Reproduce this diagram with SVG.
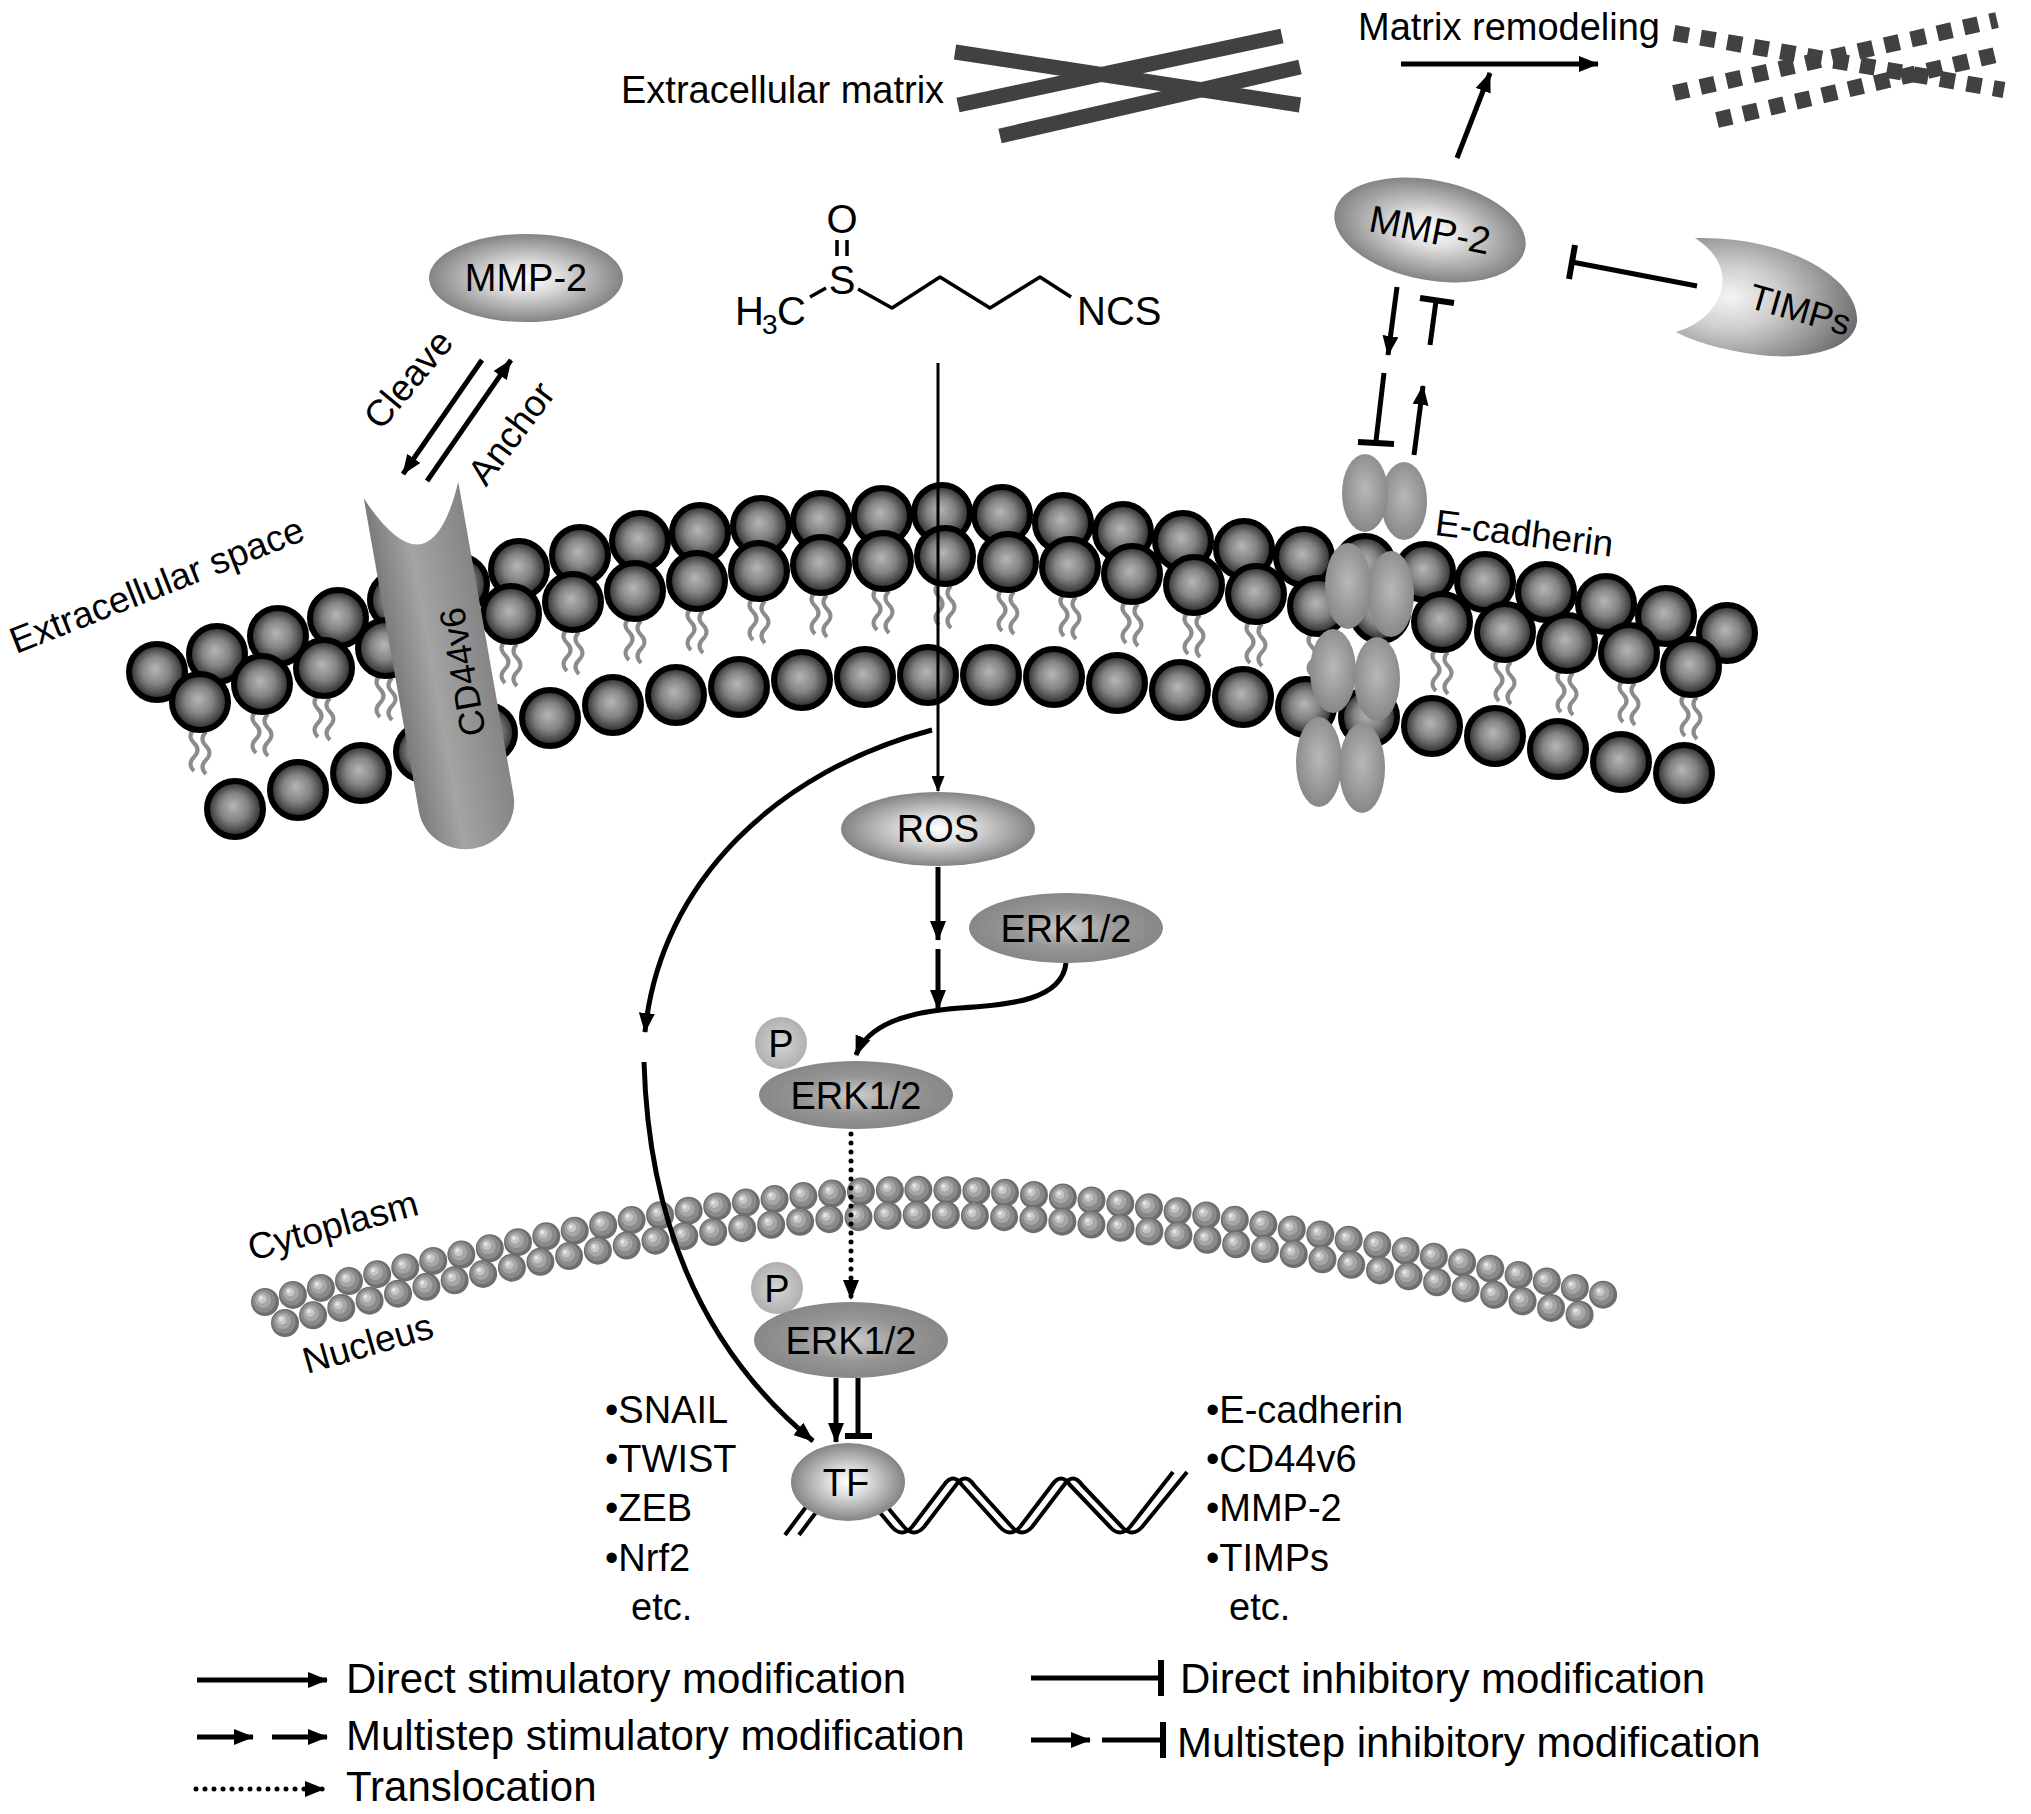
<svg xmlns="http://www.w3.org/2000/svg" xmlns:xlink="http://www.w3.org/1999/xlink" width="2031" height="1814" viewBox="0 0 2031 1814">
<style>
text{font-family:"Liberation Sans",Arial,sans-serif;fill:#000}
.lbl{font-size:38px}
.leg{font-size:42px}
.node{font-size:38px;text-anchor:middle}
.ln{fill:none;stroke:#000;stroke-width:5}
.thin{fill:none;stroke:#000;stroke-width:3}
.bar{fill:none;stroke:#000;stroke-width:6}
.ecm{stroke:#414141;stroke-width:15;fill:none}
.ecmd{stroke:#414141;stroke-width:16;stroke-dasharray:15 12;fill:none}
.bond{stroke:#000;stroke-width:3.5;fill:none;stroke-linejoin:round}
.dna{fill:none;stroke:#000;stroke-width:4;stroke-linejoin:round}
</style>
<defs>
<radialGradient id="pg" cx="0.5" cy="0.5" r="0.5" fx="0.46" fy="0.44">
<stop offset="0" stop-color="#b6b6b6"/><stop offset="0.5" stop-color="#838383"/><stop offset="0.85" stop-color="#424242"/><stop offset="1" stop-color="#1e1e1e"/>
</radialGradient>
<radialGradient id="gL" cx="0.5" cy="0.5" r="0.55">
<stop offset="0" stop-color="#ffffff"/><stop offset="0.3" stop-color="#e0e0e0"/><stop offset="1" stop-color="#767676"/>
</radialGradient>
<radialGradient id="gE" cx="0.5" cy="0.5" r="0.55">
<stop offset="0" stop-color="#cdcdcd"/><stop offset="0.5" stop-color="#969696"/><stop offset="1" stop-color="#848484"/>
</radialGradient>
<radialGradient id="gP" cx="0.5" cy="0.5" r="0.5">
<stop offset="0" stop-color="#d6d6d6"/><stop offset="1" stop-color="#b0b0b0"/>
</radialGradient>
<radialGradient id="gC" cx="0.5" cy="0.45" r="0.55">
<stop offset="0" stop-color="#b8b8b8"/><stop offset="1" stop-color="#878787"/>
</radialGradient>
<radialGradient id="gT" cx="0.3" cy="0.5" r="0.75">
<stop offset="0" stop-color="#f4f4f4"/><stop offset="0.35" stop-color="#cfcfcf"/><stop offset="1" stop-color="#6a6a6a"/>
</radialGradient>
<linearGradient id="gcd" x1="0" y1="0" x2="1" y2="0">
<stop offset="0" stop-color="#7c7c7c"/><stop offset="0.4" stop-color="#a4a4a4"/><stop offset="1" stop-color="#858585"/>
</linearGradient>
<marker id="ah" markerUnits="userSpaceOnUse" markerWidth="20" markerHeight="16" viewBox="0 0 20 16" refX="19" refY="8" orient="auto">
<path d="M0,0 L20,8 L0,16 Z" fill="#000"/>
</marker>
<marker id="ahs" markerUnits="userSpaceOnUse" markerWidth="16" markerHeight="13" viewBox="0 0 16 13" refX="15" refY="6.5" orient="auto">
<path d="M0,0 L16,6.5 L0,13 Z" fill="#000"/>
</marker>
<circle id="ps" r="28" fill="url(#pg)" stroke="#000" stroke-width="6"/>
<g id="tp" fill="none" stroke="#8c8c8c" stroke-width="4">
<path d="M-6,0 q-7,7 0,14 t0,14 t0,14"/><path d="M6,3 q-7,7 0,14 t0,14 t0,14"/>
</g>
<path id="n1" d="M265,1302 C450,1255 700,1195 900,1190 C1100,1186 1400,1245 1621,1299" fill="none" stroke-linecap="round" stroke-dasharray="0 28.9"/>
<path id="n2" d="M285,1323 C470,1272 720,1218 915,1215 C1110,1212 1390,1268 1601,1320" fill="none" stroke-linecap="round" stroke-dasharray="0 29.2"/>
</defs>
<rect width="2031" height="1814" fill="#fff"/>

<g id="ecm">
<line class="ecm" x1="955" y1="52" x2="1300" y2="105"/>
<line class="ecm" x1="958" y1="105" x2="1282" y2="36"/>
<line class="ecm" x1="1000" y1="136" x2="1300" y2="67"/>
<text class="lbl" x="621" y="103">Extracellular matrix</text>
</g>
<g id="ecm-remodeled">
<line class="ecmd" x1="1674" y1="33" x2="2004" y2="90"/>
<line class="ecmd" x1="1674" y1="93" x2="1997" y2="20"/>
<line class="ecmd" x1="1717" y1="120" x2="2004" y2="53"/>
<text class="lbl" x="1358" y="40">Matrix remodeling</text>
</g>

<g id="sulforaphane">
<text x="735" y="325" font-size="40">H</text>
<text x="762" y="334" font-size="28">3</text>
<text x="777" y="325" font-size="40">C</text>
<text x="842" y="294" font-size="40" text-anchor="middle">S</text>
<text x="842" y="233" font-size="40" text-anchor="middle">O</text>
<text x="1077" y="325" font-size="40">NCS</text>
<path class="bond" d="M810,297 L826,288"/>
<path class="bond" d="M837,240 L837,256 M847,240 L847,256"/>
<path class="bond" d="M858,289 L892,308 L940,277 L990,308 L1040,277 L1071,297"/>
</g>

<g id="mmp2-left">
<ellipse cx="526" cy="278" rx="97" ry="44" fill="url(#gL)"/>
<text class="node" x="526" y="291">MMP-2</text>
</g>

<g id="membrane">
<use href="#tp" x="200" y="729"/><use href="#tp" x="262" y="711"/><use href="#tp" x="324" y="695"/><use href="#tp" x="386" y="675"/><use href="#tp" x="449" y="657"/><use href="#tp" x="511" y="641"/><use href="#tp" x="573" y="629"/><use href="#tp" x="635" y="618"/><use href="#tp" x="697" y="608"/><use href="#tp" x="759" y="598"/><use href="#tp" x="821" y="592"/><use href="#tp" x="883" y="588"/><use href="#tp" x="945" y="583"/><use href="#tp" x="1008" y="589"/><use href="#tp" x="1070" y="594"/><use href="#tp" x="1132" y="601"/><use href="#tp" x="1194" y="612"/><use href="#tp" x="1256" y="621"/><use href="#tp" x="1318" y="633"/><use href="#tp" x="1442" y="649"/><use href="#tp" x="1505" y="659"/><use href="#tp" x="1567" y="670"/><use href="#tp" x="1629" y="680"/><use href="#tp" x="1691" y="694"/>
<g id="rowA">
<use href="#ps" x="157" y="672"/><use href="#ps" x="217" y="654"/><use href="#ps" x="278" y="636"/><use href="#ps" x="338" y="618"/><use href="#ps" x="398" y="600"/><use href="#ps" x="459" y="584"/><use href="#ps" x="519" y="569"/><use href="#ps" x="580" y="555"/><use href="#ps" x="640" y="541"/><use href="#ps" x="700" y="533"/><use href="#ps" x="761" y="526"/><use href="#ps" x="821" y="521"/><use href="#ps" x="882" y="516"/><use href="#ps" x="942" y="513"/><use href="#ps" x="1002" y="515"/><use href="#ps" x="1063" y="523"/><use href="#ps" x="1123" y="532"/><use href="#ps" x="1183" y="541"/><use href="#ps" x="1244" y="549"/><use href="#ps" x="1304" y="557"/><use href="#ps" x="1365" y="564"/><use href="#ps" x="1425" y="572"/><use href="#ps" x="1485" y="582"/><use href="#ps" x="1546" y="592"/><use href="#ps" x="1606" y="604"/><use href="#ps" x="1666" y="616"/><use href="#ps" x="1727" y="633"/>
</g>
<g id="rowB">
<use href="#ps" x="200" y="702"/><use href="#ps" x="262" y="684"/><use href="#ps" x="324" y="668"/><use href="#ps" x="386" y="648"/><use href="#ps" x="449" y="630"/><use href="#ps" x="511" y="614"/><use href="#ps" x="573" y="602"/><use href="#ps" x="635" y="591"/><use href="#ps" x="697" y="581"/><use href="#ps" x="759" y="571"/><use href="#ps" x="821" y="565"/><use href="#ps" x="883" y="561"/><use href="#ps" x="945" y="556"/><use href="#ps" x="1008" y="562"/><use href="#ps" x="1070" y="567"/><use href="#ps" x="1132" y="574"/><use href="#ps" x="1194" y="585"/><use href="#ps" x="1256" y="594"/><use href="#ps" x="1318" y="606"/><use href="#ps" x="1380" y="613"/><use href="#ps" x="1442" y="622"/><use href="#ps" x="1505" y="632"/><use href="#ps" x="1567" y="643"/><use href="#ps" x="1629" y="653"/><use href="#ps" x="1691" y="667"/>
</g>
<g id="rowC">
<use href="#ps" x="235" y="809"/><use href="#ps" x="298" y="790"/><use href="#ps" x="361" y="773"/><use href="#ps" x="424" y="752"/><use href="#ps" x="487" y="733"/><use href="#ps" x="550" y="718"/><use href="#ps" x="613" y="705"/><use href="#ps" x="676" y="695"/><use href="#ps" x="739" y="687"/><use href="#ps" x="802" y="680"/><use href="#ps" x="865" y="677"/><use href="#ps" x="928" y="675"/><use href="#ps" x="991" y="675"/><use href="#ps" x="1054" y="677"/><use href="#ps" x="1117" y="683"/><use href="#ps" x="1180" y="690"/><use href="#ps" x="1243" y="697"/><use href="#ps" x="1306" y="707"/><use href="#ps" x="1369" y="717"/><use href="#ps" x="1432" y="726"/><use href="#ps" x="1495" y="736"/><use href="#ps" x="1558" y="749"/><use href="#ps" x="1621" y="762"/><use href="#ps" x="1684" y="773"/>
</g>
<text transform="translate(16,654) rotate(-21.5)" style="font-size:37px">Extracellular space</text>
</g>

<g id="cd44v6">
<path transform="translate(411,490) rotate(-10)" d="M-48,0 Q0,110 48,0 L48,318 A48,46 0 0 1 -48,318 Z" fill="url(#gcd)"/>
<text transform="translate(462,672) rotate(-100)" text-anchor="middle" dy="13" style="font-size:36px">CD44v6</text>
</g>

<g id="e-cadherin">
<ellipse cx="1404" cy="501" rx="23" ry="39" fill="url(#gC)"/>
<ellipse cx="1365" cy="493" rx="23" ry="39" fill="url(#gC)"/>
<ellipse cx="1391" cy="594" rx="23" ry="43" fill="url(#gC)"/>
<ellipse cx="1348" cy="586" rx="23" ry="43" fill="url(#gC)"/>
<ellipse cx="1377" cy="679" rx="23" ry="42" fill="url(#gC)"/>
<ellipse cx="1333" cy="671" rx="23" ry="42" fill="url(#gC)"/>
<ellipse cx="1362" cy="768" rx="23" ry="45" fill="url(#gC)"/>
<ellipse cx="1319" cy="762" rx="23" ry="45" fill="url(#gC)"/>
<text transform="translate(1434,535) rotate(7)" style="font-size:37px">E-cadherin</text>
</g>

<g id="mmp2-right">
<ellipse cx="1430" cy="230" rx="97" ry="50" transform="rotate(11 1430 230)" fill="url(#gL)"/>
<text class="node" transform="translate(1430,230) rotate(11)" y="13">MMP-2</text>
</g>

<g id="timps">
<path d="M1695,238 C1790,236 1860,280 1857,322 C1853,352 1800,360 1760,355 C1720,350 1690,340 1676,332 C1720,320 1745,270 1695,238 Z" fill="url(#gT)"/>
<text transform="translate(1800,310) rotate(16)" text-anchor="middle" dy="12" style="font-size:36px">TIMPs</text>
</g>

<g id="nuclear-membrane">
<use href="#n1" stroke="#6e6e6e" stroke-width="28"/>
<use href="#n1" stroke="#8a8a8a" stroke-width="23" transform="translate(-1,-1)"/>
<use href="#n1" stroke="#a6a6a6" stroke-width="16" transform="translate(-2,-2)"/>
<use href="#n1" stroke="#c6c6c6" stroke-width="9" transform="translate(-3,-3)"/>
<use href="#n1" stroke="#e4e4e4" stroke-width="4" transform="translate(-4,-4)"/>
<use href="#n2" stroke="#6e6e6e" stroke-width="28"/>
<use href="#n2" stroke="#8a8a8a" stroke-width="23" transform="translate(-1,-1)"/>
<use href="#n2" stroke="#a6a6a6" stroke-width="16" transform="translate(-2,-2)"/>
<use href="#n2" stroke="#c6c6c6" stroke-width="9" transform="translate(-3,-3)"/>
<use href="#n2" stroke="#e4e4e4" stroke-width="4" transform="translate(-4,-4)"/>
<text transform="translate(252,1261) rotate(-15.5)" style="font-size:37px">Cytoplasm</text>
<text transform="translate(307,1374) rotate(-16)" style="font-size:37px">Nucleus</text>
</g>

<g id="ros">
<ellipse cx="938" cy="829" rx="97" ry="37" fill="url(#gL)"/>
<text class="node" x="938" y="842">ROS</text>
</g>
<g id="erk">
<ellipse cx="1066" cy="928" rx="97" ry="35" fill="url(#gE)"/>
<text class="node" x="1066" y="942">ERK1/2</text>
</g>
<g id="p-erk">
<circle cx="781" cy="1043" r="26" fill="url(#gP)"/>
<text class="node" x="781" y="1057">P</text>
<ellipse cx="856" cy="1095" rx="97" ry="34" fill="url(#gE)"/>
<text class="node" x="856" y="1109">ERK1/2</text>
</g>
<g id="p-erk-nuclear">
<circle cx="777" cy="1288" r="26" fill="url(#gP)"/>
<text class="node" x="777" y="1302">P</text>
<ellipse cx="851" cy="1340" rx="97" ry="38" fill="url(#gE)"/>
<text class="node" x="851" y="1354">ERK1/2</text>
</g>

<g id="dna">
<path class="dna" d="M785,1535 L815,1495 M799,1535 L829,1495"/>
<path class="dna" d="M872,1503 L892,1527 Q902,1538 912,1527 L944,1485 Q953,1472 962,1485 L1000,1527 Q1010,1538 1020,1527 L1052,1485 Q1061,1472 1070,1485 L1110,1527 Q1120,1538 1130,1527 L1173,1472"/>
<path class="dna" d="M884,1503 L904,1527 Q914,1538 924,1527 L956,1485 Q965,1472 974,1485 L1012,1527 Q1022,1538 1032,1527 L1064,1485 Q1073,1472 1082,1485 L1122,1527 Q1132,1538 1142,1527 L1187,1472"/>
</g>
<g id="tf">
<ellipse cx="848" cy="1482" rx="57" ry="39" fill="url(#gL)"/>
<text class="node" x="846" y="1496">TF</text>
</g>

<g id="connectors">
<line class="ln" x1="1401" y1="64" x2="1598" y2="64" marker-end="url(#ah)"/>
<line class="ln" x1="1457" y1="158" x2="1490" y2="73" stroke-width="4" marker-end="url(#ah)"/>
<line class="ln" x1="1697" y1="286" x2="1572" y2="262" stroke-width="4"/>
<line class="bar" x1="1575" y1="245" x2="1569" y2="279"/>
<line class="ln" x1="1397" y1="287" x2="1388" y2="355" marker-end="url(#ah)"/>
<line class="ln" x1="1384" y1="373" x2="1376" y2="441"/>
<line class="bar" x1="1358" y1="442" x2="1394" y2="444"/>
<line class="ln" x1="1414" y1="455" x2="1423" y2="386" marker-end="url(#ah)"/>
<line class="ln" x1="1430" y1="345" x2="1436" y2="301"/>
<line class="bar" x1="1420" y1="298" x2="1454" y2="303"/>
<line class="ln" x1="482" y1="360" x2="403" y2="474" marker-end="url(#ah)"/>
<line class="ln" x1="427" y1="481" x2="511" y2="360" marker-end="url(#ah)"/>
<text transform="translate(408,379) rotate(-50)" text-anchor="middle" dy="13" style="font-size:37px">Cleave</text>
<text transform="translate(511,433) rotate(-53)" text-anchor="middle" dy="13" style="font-size:37px">Anchor</text>
<line class="thin" x1="938" y1="363" x2="938" y2="791" marker-end="url(#ahs)"/>
<line class="ln" x1="938" y1="867" x2="938" y2="940" stroke-width="4" marker-end="url(#ah)"/>
<line class="ln" x1="938" y1="949" x2="938" y2="1009" stroke-width="4" marker-end="url(#ah)"/>
<path class="ln" stroke-width="4" d="M1066,963 C1062,1000 1010,1005 960,1008 C905,1012 868,1025 856,1055" marker-end="url(#ah)"/>
<path class="ln" d="M932,730 C780,770 660,880 645,1032" marker-end="url(#ah)"/>
<path class="ln" d="M644,1062 C648,1200 690,1340 813,1441" marker-end="url(#ah)"/>
<line x1="851" y1="1134" x2="851" y2="1299" stroke="#000" stroke-width="5" stroke-linecap="round" stroke-dasharray="0 9" marker-end="url(#ah)"/>
<line class="ln" x1="836" y1="1378" x2="836" y2="1442" marker-end="url(#ah)"/>
<line class="ln" x1="858" y1="1378" x2="858" y2="1436"/>
<line class="bar" x1="845" y1="1436" x2="872" y2="1436"/>
</g>

<g id="tf-list">
<text class="lbl" x="605" y="1423">•SNAIL</text>
<text class="lbl" x="605" y="1472">•TWIST</text>
<text class="lbl" x="605" y="1521">•ZEB</text>
<text class="lbl" x="605" y="1571">•Nrf2</text>
<text class="lbl" x="631" y="1620">etc.</text>
</g>
<g id="gene-list">
<text class="lbl" x="1206" y="1423">•E-cadherin</text>
<text class="lbl" x="1206" y="1472">•CD44v6</text>
<text class="lbl" x="1206" y="1521">•MMP-2</text>
<text class="lbl" x="1206" y="1571">•TIMPs</text>
<text class="lbl" x="1229" y="1620">etc.</text>
</g>

<g id="legend">
<line class="ln" x1="197" y1="1680" x2="327" y2="1680" marker-end="url(#ah)"/>
<text class="leg" x="346" y="1693">Direct stimulatory modification</text>
<line class="ln" x1="197" y1="1737" x2="253" y2="1737" marker-end="url(#ah)"/>
<line class="ln" x1="272" y1="1737" x2="327" y2="1737" marker-end="url(#ah)"/>
<text class="leg" x="346" y="1750">Multistep stimulatory modification</text>
<line x1="196" y1="1789" x2="324" y2="1789" stroke="#000" stroke-width="5" stroke-linecap="round" stroke-dasharray="0 9" marker-end="url(#ah)"/>
<text class="leg" x="346" y="1801">Translocation</text>
<line class="ln" x1="1031" y1="1678" x2="1161" y2="1678"/>
<line class="bar" x1="1161" y1="1660" x2="1161" y2="1696"/>
<text class="leg" x="1180" y="1693">Direct inhibitory modification</text>
<line class="ln" x1="1031" y1="1740" x2="1090" y2="1740" marker-end="url(#ah)"/>
<line class="ln" x1="1102" y1="1740" x2="1163" y2="1740"/>
<line class="bar" x1="1163" y1="1722" x2="1163" y2="1758"/>
<text class="leg" x="1177" y="1757">Multistep inhibitory modification</text>
</g>
</svg>
